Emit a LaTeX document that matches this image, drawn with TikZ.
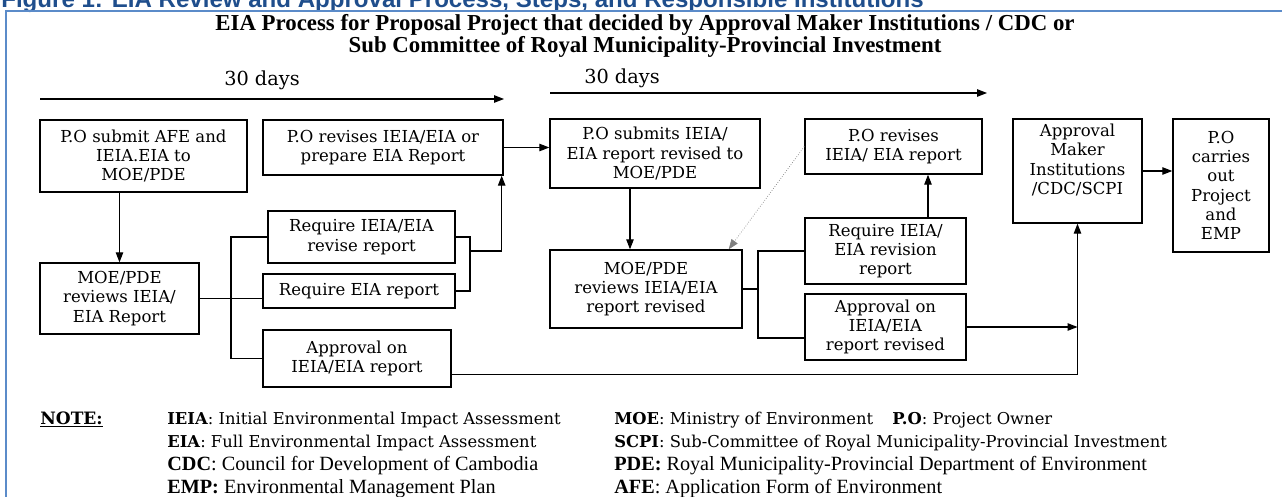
\documentclass[tikz,border=0pt]{standalone}
\usepackage{fontspec}
\setmainfont{DejaVu Serif}
\newfontfamily\timesfont{Liberation Serif}
\newfontfamily\headfont{Liberation Sans}
\usetikzlibrary{positioning, arrows.meta, calc}
\definecolor{figblue}{HTML}{1F4E8C}
\definecolor{frameblue}{HTML}{5B8BC9}
\tikzset{stage/.style={draw,line width=0.8pt,align=center,inner sep=1pt,font=\fontsize{9.4}{11}\selectfont},
         flow/.style={line width=0.6pt},
         tip/.style={-{Triangle[length=2mm,width=1.5mm]}},
         days/.style={font=\fontsize{11}{13}\selectfont},
         notes/.style={anchor=base west,inner sep=0pt,font=\fontsize{9.3}{11}\selectfont},
         notes2/.style={notes,font=\timesfont\fontsize{11.5}{13}\selectfont},
        }

\begin{document}
\begin{tikzpicture}[x=0.02cm,y=-0.02cm]
        \useasboundingbox (0,0) rectangle (1282,497);
        % header and frame
        \node[anchor=base west,inner sep=0pt,text=figblue,font=\headfont\bfseries\fontsize{13.7}{16}\selectfont](fig)at(1,8){Figure 1: EIA Review and Approval Process, Steps, and Responsible Institutions};
        \draw[frameblue,line width=1.2pt] (6,497) -- (6,11) -- (1282,11);
        \node[align=center,font=\timesfont\bfseries\fontsize{13}{11.4}\selectfont](title)at(645,36){EIA Process for Proposal Project that decided by Approval Maker Institutions / CDC or\\Sub Committee of Royal Municipality-Provincial Investment};

        % time spans
        \coordinate (d1a) at (40,99);
        \coordinate (d1b) at (504,99);
        \coordinate (d2a) at (550,93);
        \coordinate (d2b) at (987,93);
        \node[days](lab1)at(262,80){30 days};
        \node[days](lab2)at(622,78){30 days};
        \draw[flow,tip](d1a)--(d1b);
        \draw[flow,tip](d2a)--(d2b);

        % first round
        \node[stage,minimum width=4.14cm,minimum height=1.44cm](submit)at(143.5,156){P.O submit AFE and\\IEIA.EIA to\\MOE/PDE};
        \node[stage,minimum width=4.80cm,minimum height=1.10cm](revise)at(383,147.5){P.O revises IEIA/EIA or\\prepare EIA Report};
        \node[stage,minimum width=3.74cm,minimum height=1.04cm](reqrev)at(361.5,237){Require IEIA/EIA\\revise report};
        \node[stage,minimum width=3.84cm,minimum height=0.68cm](reqeia)at(359,291){Require EIA report};
        \node[stage,minimum width=3.18cm,minimum height=1.42cm](review)at(119.5,298.5){MOE/PDE\\reviews IEIA/\\EIA Report};
        \node[stage,minimum width=3.76cm,minimum height=1.14cm](approve)at(357,358.5){Approval on\\IEIA/EIA report};

        % second round
        \node[stage,minimum width=4.20cm,minimum height=1.38cm](resubmit)at(655,153.5){P.O submits IEIA/\\EIA report revised to\\MOE/PDE};
        \node[stage,minimum width=3.54cm,minimum height=1.10cm](rerevise)at(893.5,146.5){P.O revises\\IEIA/ EIA report};
        \node[stage,minimum width=3.22cm,minimum height=1.32cm](reqrev2)at(885.5,251){Require IEIA/\\EIA revision\\report};
        \node[stage,minimum width=3.84cm,minimum height=1.56cm](rereview)at(646,289){MOE/PDE\\reviews IEIA/EIA\\report revised};
        \node[stage,minimum width=3.22cm,minimum height=1.32cm](approve2)at(885.5,327){Approval on\\IEIA/EIA\\report revised};

        % decision
        \node[draw,line width=0.8pt,inner sep=0pt,font=\fontsize{9.4}{11}\selectfont](maker)at(1077.5,171){\parbox[c][2.08cm][t]{2.58cm}{\centering\vspace*{0.1cm}Approval\\Maker\\Institutions\\/CDC/SCPI}};
        \node[stage,minimum width=1.92cm,minimum height=2.66cm](carry)at(1221,185.5){P.O\\carries\\out\\Project\\and\\EMP};

        % connectors, first round
        \coordinate (fork1) at (231,295);
        \coordinate (fork2) at (470,251);
        \draw[flow,tip](review.north |- submit.south)--(review.north);
        \draw[flow](review.east)--(review.east -| reqeia.west);
        \draw[flow](reqrev.west) -| (fork1 |- approve.west) -- (approve.west);
        \draw[flow](reqrev.east) -| (fork2 |- reqeia.east) -- (reqeia.east);
        \draw[flow,tip](fork2) -| ($(revise.south east)+(-2,0)$);
        \draw[flow,tip](revise.east)--(revise.east -| resubmit.west);

        % connectors, second round
        \coordinate (fork3) at (758,338);
        \draw[flow,tip]($(resubmit.south)+(-25,0)$)--($(rereview.north)+(-16,0)$);
        \draw[densely dotted,gray,line width=0.4pt,tip](rerevise.west)--($(rereview.north east)+(-14,0)$);
        \draw[flow,tip]($(reqrev2.north)+(42.5,0)$)--($(rerevise.south)+(34.5,0)$);
        \draw[flow](rereview.east)--(rereview.east -| fork3);
        \draw[flow](reqrev2.west) -| (fork3) -- (fork3 -| approve2.west);
        \draw[flow,tip](approve2.east)--(approve2.east -| maker.south);
        \draw[flow,tip]($(approve.south east)+(0,-13)$) -| (maker.south);
        \draw[flow,tip](maker.east)--(maker.east -| carry.west);

        % legend
        \node[notes,font=\bfseries\fontsize{9.7}{11}\selectfont](note)at(40,424){\underline{NOTE:}};
        \node[notes](ieia)at(167,424){\textbf{IEIA}: Initial Environmental Impact Assessment};
        \node[notes](eia)at(167,447){\textbf{EIA}: Full Environmental Impact Assessment};
        \node[notes2](cdc)at(167,470){\textbf{CDC}: Council for Development of Cambodia};
        \node[notes2](emp)at(167,493){\textbf{EMP:} Environmental Management Plan};
        \node[notes](moe)at(614,424){\textbf{MOE}: Ministry of Environment};
        \node[notes](po)at(892,424){\textbf{P.O}: Project Owner};
        \node[notes](scpi)at(614,447){\textbf{SCPI}: Sub-Committee of Royal Municipality-Provincial Investment};
        \node[notes2](pde)at(614,470){\textbf{PDE:} Royal Municipality-Provincial Department of Environment};
        \node[notes2](afe)at(614,493){\textbf{AFE}: Application Form of Environment};
\end{tikzpicture}
\end{document}
